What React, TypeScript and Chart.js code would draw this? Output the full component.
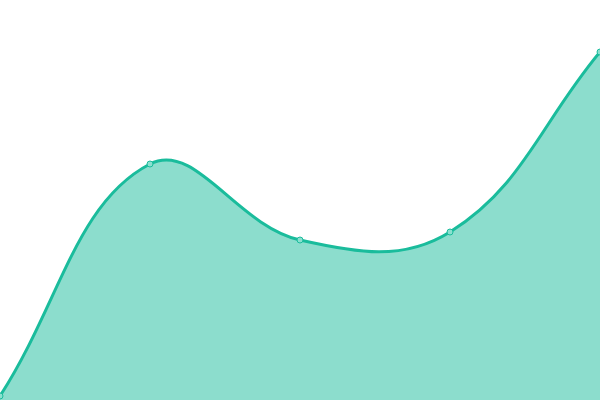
import { useRef, useEffect } from 'react'
import { Chart, registerables } from 'chart.js'

Chart.register(...registerables)

const labels = ['A', 'B', 'C', 'D', 'E']
const values = [1, 59, 40, 42, 87]

export default function App() {
  const canvasRef = useRef<HTMLCanvasElement>(null)

  useEffect(() => {
    document.body.style.margin = '0'
    const ctx = canvasRef.current?.getContext('2d')
    if (!ctx) return

    const chart = new Chart(ctx, {
      type: 'line',
      data: {
        labels,
        datasets: [{
          data: values,
          borderColor: '#1abc9c',
          backgroundColor: 'rgba(26,188,156,0.5)',
          pointBackgroundColor: '#8ae0cf',
          pointBorderColor: '#1abc9c',
          pointBorderWidth: 1,
          pointRadius: 3,
          borderWidth: 3,
          fill: true,
          tension: 0.4,
          clip: false,
        }],
      },
      options: {
        responsive: false,
        animation: false,
        layout: { padding: 0, autoPadding: false },
        plugins: { legend: { display: false }, tooltip: { enabled: false } },
        scales: {
          x: { display: false },
          y: { display: false, min: 0, max: 100 },
        },
      },
    })

    return () => { chart.destroy() }
  }, [])

  return (
    <div style={{ width: 600, height: 400 }}>
      <canvas ref={canvasRef} width={600} height={400} />
    </div>
  )
}
